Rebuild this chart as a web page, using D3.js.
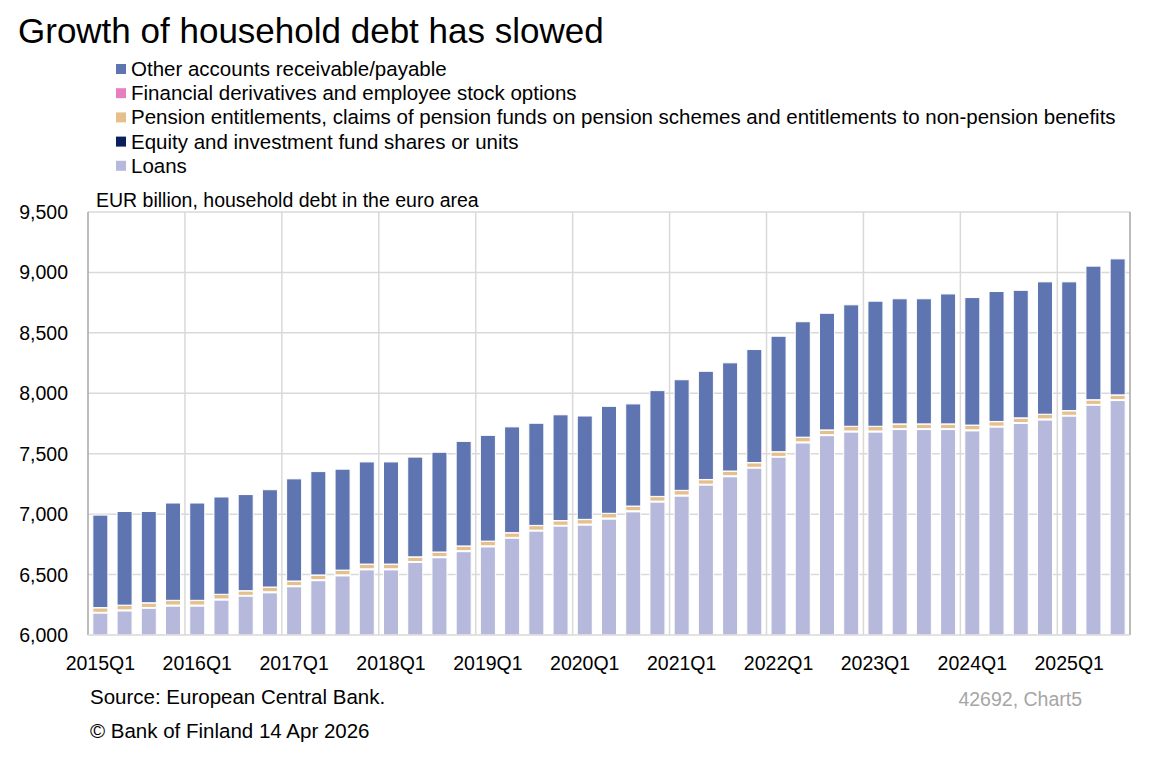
<!DOCTYPE html>
<html><head><meta charset="utf-8">
<script src="https://cdn.jsdelivr.net/npm/d3@7"></script>
<style>body{margin:0;background:#fff;font-family:"Liberation Sans",Arial,sans-serif}</style>
</head><body><svg id="c" width="1162" height="759"></svg>
<script>
// quarters 2015Q1 .. 2025Q3
const quarters = [];
for (let y = 2015; y <= 2025; y++) for (let q = 1; q <= 4; q++) quarters.push(`${y}Q${q}`);
quarters.splice(43);

const loans = [6180,6200,6220,6240,6240,6290,6320,6350,6400,6450,6490,6540,6540,6600,6640,6690,6730,6800,6860,6900,6910,6960,7020,7100,7150,7240,7310,7380,7470,7590,7650,7680,7680,7700,7700,7700,7690,7720,7750,7780,7810,7900,7940];
const equity = [8,8,8,8,8,8,8,8,8,8,8,8,8,8,8,8,8,8,8,8,8,8,8,8,8,8,8,8,8,8,8,8,8,8,8,8,8,8,8,8,8,8,8];
const pension = [37,37,37,37,37,37,37,37,37,37,37,37,37,37,37,37,37,37,37,37,37,37,37,37,37,37,37,37,37,37,37,37,37,37,37,37,37,37,37,37,37,37,37];
const derivatives = [2,2,2,2,2,2,2,2,2,2,2,2,2,2,2,2,2,2,2,2,2,2,2,2,2,2,2,2,2,2,2,2,2,2,2,2,2,2,2,2,2,2,2];
const other = [765,775,755,805,805,805,795,805,845,855,835,845,845,825,825,865,875,875,845,875,855,885,845,875,915,895,895,935,955,955,965,1005,1035,1035,1035,1075,1055,1075,1055,1095,1065,1105,1125];

const series = [
  {key: "loans", name: "Loans", values: loans, color: "#b6b9dc"},
  {key: "equity", name: "Equity and investment fund shares or units", values: equity, color: "#0b1f5e"},
  {key: "pension", name: "Pension entitlements, claims of pension funds on pension schemes and entitlements to non-pension benefits", values: pension, color: "#e5c08d"},
  {key: "derivatives", name: "Financial derivatives and employee stock options", values: derivatives, color: "#e77fbf"},
  {key: "other", name: "Other accounts receivable/payable", values: other, color: "#5e75b1"}
];
const yTicks = [6000,6500,7000,7500,8000,8500,9000,9500];

const svg = d3.select("#c");
const m = {l: 88, r: 1130, t: 212, b: 635};

const table = quarters.map((q, i) => {
  const row = {q};
  series.forEach(s => row[s.key] = s.values[i]);
  return row;
});
const stacked = d3.stack().keys(series.map(s => s.key))(table);

const x = d3.scaleBand().domain(quarters).range([m.l, m.r]).paddingInner(0.38).paddingOuter(0.2);
const y = d3.scaleLinear().domain([6000, 9500]).range([m.b, m.t]).clamp(true);

svg.append("text").attr("x", 18).attr("y", 43).attr("font-size", 35).text("Growth of household debt has slowed");

// legend (reverse order)
const leg = svg.append("g").attr("font-size", 20.5);
series.slice().reverse().forEach((s, i) => {
  const yy = 70 + i * 24.2;
  leg.append("rect").attr("x", 116).attr("y", yy - 6).attr("width", 10).attr("height", 10).attr("fill", s.color);
  leg.append("text").attr("x", 131).attr("y", yy + 6).text(s.name);
});

// grid
const grid = svg.append("g").attr("stroke", "#d9d9d9").attr("stroke-width", 1.5);
yTicks.slice(1).forEach(t => grid.append("line").attr("x1", m.l).attr("x2", m.r).attr("y1", y(t)).attr("y2", y(t)));
quarters.forEach((q, i) => {
  if (i > 0 && i % 4 === 0) {
    const xx = m.l + i * (m.r - m.l) / quarters.length;
    grid.append("line").attr("x1", xx).attr("x2", xx).attr("y1", m.t).attr("y2", m.b);
  }
});
svg.append("line").attr("x1", m.r).attr("x2", m.r).attr("y1", m.t).attr("y2", m.b).attr("stroke", "#a6a6a6").attr("stroke-width", 1.5);

// bars
svg.append("g").selectAll("g").data(stacked).join("g")
  .attr("fill", d => series.find(s => s.key === d.key).color)
  .selectAll("rect").data(d => d).join("rect")
  .attr("x", d => x(d.data.q)).attr("width", x.bandwidth())
  .attr("y", d => y(d[1])).attr("height", d => y(d[0]) - y(d[1]))
  .attr("stroke", "#fff").attr("stroke-width", 1);

// axes
svg.append("line").attr("x1", m.l).attr("x2", m.l).attr("y1", m.t).attr("y2", m.b).attr("stroke", "#a6a6a6").attr("stroke-width", 1.5);
svg.append("line").attr("x1", m.l).attr("x2", m.r).attr("y1", m.b).attr("y2", m.b).attr("stroke", "#d9d9d9").attr("stroke-width", 1.5);
const fmt = d3.format(",");
svg.append("g").attr("font-size", 19.5).attr("text-anchor", "end").selectAll("text").data(yTicks).join("text")
  .attr("x", 68).attr("y", d => y(d) + 7).text(d => fmt(d));
svg.append("g").attr("font-size", 19.5).attr("text-anchor", "middle").selectAll("text")
  .data(quarters.filter((q, i) => i % 4 === 0)).join("text")
  .attr("x", d => x(d) + x.bandwidth() / 2).attr("y", 670).text(d => d);

svg.append("text").attr("x", 96).attr("y", 207).attr("font-size", 19.5).text("EUR billion, household debt in the euro area");
svg.append("text").attr("x", 90).attr("y", 704).attr("font-size", 20.5).text("Source: European Central Bank.");
svg.append("text").attr("x", 90).attr("y", 738).attr("font-size", 20.5).text("© Bank of Finland 14 Apr 2026");
svg.append("text").attr("x", 1082).attr("y", 706).attr("font-size", 19.5).attr("text-anchor", "end").attr("fill", "#a6a6a6").text("42692, Chart5");
</script></body></html>
